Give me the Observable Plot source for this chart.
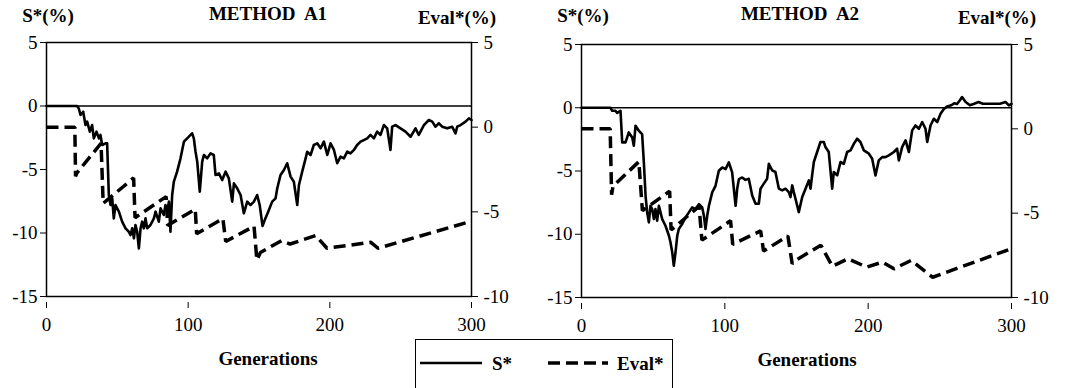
<!DOCTYPE html>
<html><head><meta charset="utf-8">
<script src="https://cdn.jsdelivr.net/npm/d3@7"></script>
<script src="https://cdn.jsdelivr.net/npm/@observablehq/plot@0.6"></script>
<style>
body{margin:0;background:#fff;}
#wrap{position:relative;width:1065px;height:388px;overflow:hidden;background:#fff;font-family:"Liberation Serif","Tinos","Times New Roman","DejaVu Serif","Noto Serif",serif;color:#000}
.lbl{position:absolute;font-weight:bold;font-size:19px;line-height:19px;white-space:pre;transform:translate(-50%,-50%);}
.panel{position:absolute;top:0}
#legend{position:absolute;left:415px;top:339px;width:256px;height:70px;border:1.5px solid #000;background:#fff}
#legend text{font-family:"Liberation Serif","Tinos","Times New Roman","DejaVu Serif","Noto Serif",serif}
</style></head><body><div id="wrap">
<div class="panel" id="p1" style="left:0"></div>
<div class="panel" id="p2" style="left:532px"></div>
<div class="lbl" style="left:48px;top:15px">S*(%)</div>
<div class="lbl" style="left:268px;top:13px">METHOD  A1</div>
<div class="lbl" style="left:457px;top:17px">Eval*(%)</div>
<div class="lbl" style="left:583px;top:15px">S*(%)</div>
<div class="lbl" style="left:800px;top:13px">METHOD  A2</div>
<div class="lbl" style="left:997px;top:17px">Eval*(%)</div>
<div class="lbl" style="left:268px;top:358px">Generations</div>
<div class="lbl" style="left:807px;top:359px">Generations</div>
<div id="legend"><svg width="256" height="50">
<line x1="4" y1="23" x2="66" y2="23" stroke="#000" stroke-width="2.5"/>
<text x="76" y="23" dominant-baseline="central" font-weight="bold" font-size="19">S*</text>
<line x1="132" y1="23" x2="192" y2="23" stroke="#000" stroke-width="3.5" stroke-dasharray="12,6"/>
<text x="201" y="23" dominant-baseline="central" font-weight="bold" font-size="19">Eval*</text>
</svg></div>
</div>
<script>
const xTicks = [0, 100, 200, 300];
const sTicks = [-15, -10, -5, 0, 5];
const evalTicks = [-10, -5, 0, 5];

// METHOD A1: [generation, S* %]
const a1S = [[0,0],[20,0],[21.6,0],[22.8,-0.2],[24,-0.71],[25.9,-0.45],[27.5,-1.5],[28.7,-1.23],[30.6,-2.02],[32.2,-1.5],[33.4,-2.55],[35.3,-2.02],[37,-2.55],[38.1,-2.28],[39.3,-3.07],[41.6,-2.94],[42.8,-2.94],[44,-7.01],[45.2,-7.8],[46.4,-7.27],[47.5,-8.85],[48.7,-7.8],[51.1,-8.32],[53.4,-9.11],[55.8,-9.63],[58.1,-9.9],[59.3,-10.16],[60.5,-9.63],[61.7,-10.42],[62.8,-9.37],[64,-9.9],[65.2,-11.21],[66.4,-9.63],[67.5,-9.11],[68.7,-9.63],[69.9,-8.85],[71.1,-9.63],[73.4,-9.37],[75.8,-8.85],[77,-8.32],[79.3,-9.11],[80.5,-8.06],[82.8,-8.58],[84,-7.8],[85.2,-8.32],[86.4,-7.53],[87.5,-9.9],[88.7,-7.01],[89.9,-5.96],[92.2,-5.17],[94.6,-4.12],[97,-2.81],[99.3,-2.55],[101.7,-2.28],[102.8,-2.15],[104,-2.55],[105.2,-3.6],[106.4,-4.38],[108.2,-6.75],[109.9,-4.38],[111.1,-3.86],[113.4,-4.12],[115.8,-3.73],[118.1,-3.86],[119.3,-5.43],[121.7,-5.3],[124,-5.83],[126.4,-5.17],[128.7,-5.7],[131.1,-7.53],[132.3,-6.09],[134.6,-6.48],[137,-7.01],[139.3,-8.45],[141.7,-7.53],[144,-7.8],[146.4,-7.53],[148.7,-7.01],[150.5,-7.8],[152.5,-9.45],[154.5,-8.85],[156.5,-8.32],[159.3,-7.53],[161.7,-7.27],[162.9,-6.48],[165.2,-5.43],[167.6,-5.04],[169.9,-4.51],[172.3,-5.56],[174.6,-5.96],[177,-7.8],[178.2,-6.22],[180.5,-5.17],[182.9,-4.12],[184,-3.6],[186.4,-3.86],[188.7,-3.07],[191.1,-2.94],[193.5,-3.33],[195.8,-2.81],[198.2,-3.86],[200.5,-2.94],[202.9,-3.46],[205.2,-4.51],[207.6,-3.99],[209.9,-4.12],[212.3,-3.6],[214.6,-3.73],[217,-3.46],[219.3,-3.07],[221.7,-2.81],[224,-2.68],[226.4,-2.55],[228.7,-2.28],[231.1,-2.55],[233.4,-2.02],[235.8,-2.28],[238.1,-1.5],[240.5,-1.76],[242.8,-3.46],[244,-1.63],[246.4,-1.5],[249.9,-1.76],[253.4,-2.02],[257,-2.42],[260.5,-1.76],[262.8,-2.28],[266.4,-1.5],[269.9,-1.1],[272.3,-1.23],[274.6,-1.63],[277,-1.36],[279.3,-1.63],[282.8,-1.76],[286.4,-1.63],[288.7,-2.15],[289.9,-1.63],[292.3,-1.5],[295.8,-1.23],[298.2,-0.97],[300,-1.1]];

// METHOD A1: [generation, Eval* %]
const a1Eval = [[0,0],[20,0],[20.5,-2.9],[21.5,-2.7],[38.5,-0.95],[40,-4.5],[61.5,-3.0],[62.5,-5.35],[84.5,-4.1],[85.5,-5.8],[105,-4.85],[106,-6.3],[124.5,-5.4],[126.5,-6.75],[146.5,-5.85],[148.5,-7.85],[151,-7.4],[166,-6.7],[172,-6.9],[190,-6.4],[198,-7.15],[229,-6.8],[234,-7.15],[300,-5.55]];

// METHOD A2: [generation, S* %]
const a2S = [[0,0],[20.2,0],[21.4,-0.24],[23.7,-0.24],[24.9,-0.4],[27.2,-0.24],[28.4,-2.74],[30.7,-2.74],[33,-1.95],[35.4,-2.35],[36.5,-3],[37.7,-1.42],[40,-1.82],[42.3,-2.08],[43.5,-4.32],[44.7,-6.96],[45.8,-8.27],[47,-9.06],[48.1,-7.75],[49.3,-8.01],[50.5,-8.8],[51.6,-8.01],[52.8,-8.93],[54,-7.75],[56.3,-8.8],[58.6,-9.33],[61,-10.12],[62.1,-10.65],[63.3,-11.43],[64.4,-12.49],[65.6,-11.43],[66.8,-10.12],[67.9,-9.59],[70.2,-9.2],[72.6,-8.67],[74.9,-8.27],[77.2,-7.88],[79.5,-8.01],[81.9,-7.62],[84.2,-7.88],[85.4,-8.54],[86.5,-9.59],[87.7,-8.54],[88.9,-7.75],[91.2,-6.69],[93.5,-6.17],[95.8,-4.98],[98.2,-4.72],[100.5,-4.85],[102.8,-4.32],[105.1,-5.11],[107.5,-7.75],[108.6,-6.43],[109.8,-5.64],[112.1,-5.51],[114.4,-5.7],[116.7,-5.61],[119.1,-6.93],[121.4,-7.59],[123.7,-7.59],[124.9,-6.4],[127.2,-6],[129.5,-5.61],[130.7,-4.43],[133,-4.95],[135.3,-5.08],[137.7,-6.4],[140,-6.53],[142.3,-6.4],[144.6,-6.67],[145.8,-7.06],[147,-6.14],[148.1,-6.67],[149.3,-7.19],[151.6,-8.25],[154,-7.06],[156.3,-6.4],[158.6,-5.74],[159.8,-6.4],[160.9,-5.35],[162.1,-4.29],[164.4,-3.5],[166.7,-2.71],[169.1,-2.71],[170.2,-3.11],[172.5,-3.5],[173.7,-4.95],[174.9,-6.4],[176,-5.08],[178.4,-5.35],[180.7,-4.29],[183,-4.43],[185.3,-3.5],[187.7,-3.37],[190,-2.85],[192.3,-2.45],[194.6,-2.71],[197,-3.37],[200.5,-3.63],[202.8,-4.03],[205.1,-5.35],[207.4,-4.16],[209.8,-3.9],[212.1,-3.9],[214.4,-3.77],[217.9,-3.5],[220.2,-3.24],[221.4,-4.16],[223.7,-3.11],[226.1,-2.58],[228.4,-3.5],[230.7,-1.79],[233,-1.4],[235.4,-1.66],[237.7,-1.13],[240,-1.66],[241.2,-2.71],[243.5,-1.4],[245.8,-0.87],[248.2,-1.13],[250.5,-0.47],[252.8,-0.1],[255,0.1],[258,0.2],[260,0.35],[262,0.3],[264,0.6],[265.5,0.85],[268,0.45],[271,0.2],[274,0.32],[277,0.45],[280,0.32],[284,0.32],[288,0.32],[292,0.32],[295.8,0.45],[298.2,0.19],[300,0.3]];

// METHOD A2: [generation, Eval* %]
const a2Eval = [[0,0],[20,0],[21,-3.9],[22,-3.4],[40,-1.95],[42.5,-4.85],[61.5,-3.7],[62.5,-6.0],[82,-4.6],[84,-6.6],[104,-5.45],[105.5,-6.85],[125,-6.05],[127,-7.25],[144,-6.35],[147,-8.0],[148.5,-7.85],[167,-6.9],[175,-8.15],[186,-7.7],[199,-8.2],[210,-7.9],[218,-8.3],[230,-7.8],[245,-8.8],[300,-7.1]];

const fontStack = "'Liberation Serif', Tinos, 'Times New Roman', 'DejaVu Serif', 'Noto Serif', serif";
// map the right-hand Eval* axis (-10..5) onto the left S* axis (-15..5)
const toS = e => -15 + (e + 10) * 4 / 3;
const fromS = s => String(Math.round((s + 15) * 0.75 - 10));

function makePanel(sData, eData, w, ml, mr, mt, mb) {
  return Plot.plot({
    width: w, height: 388,
    marginLeft: ml, marginRight: mr, marginTop: mt, marginBottom: mb,
    x: {domain: [0, 300]},
    y: {domain: [-15, 5]},
    style: {fontFamily: fontStack, fontSize: "19px", color: "#000", background: "transparent", overflow: "visible"},
    marks: [
      Plot.axisX(xTicks, {tickSize: 6, tickPadding: 9, dy: 6, tickFormat: d => String(d), label: null, fontFamily: fontStack}),
      Plot.axisY(sTicks, {tickSize: 6, tickPadding: 3, tickFormat: d => String(d), label: null, fontFamily: fontStack}),
      Plot.axisY(evalTicks.map(toS), {anchor: "right", tickSize: 6, tickPadding: 6, tickFormat: fromS, label: null, fontFamily: fontStack}),
      Plot.ruleY([0], {stroke: "#000", strokeWidth: 1.5}),
      Plot.frame({stroke: "#000", strokeWidth: 1.5}),
      Plot.line(eData, {x: d => d[0], y: d => toS(d[1]), stroke: "#000", strokeWidth: 3.5, strokeDasharray: "12,6", strokeLinecap: "butt", strokeLinejoin: "miter"}),
      Plot.line(sData, {x: d => d[0], y: d => d[1], stroke: "#000", strokeWidth: 2.6})
    ]
  });
}

document.getElementById("p1").appendChild(makePanel(a1S, a1Eval, 532, 46, 61, 42, 92));
document.getElementById("p2").appendChild(makePanel(a2S, a2Eval, 533, 49, 54, 44, 91));
</script>
</body></html>
